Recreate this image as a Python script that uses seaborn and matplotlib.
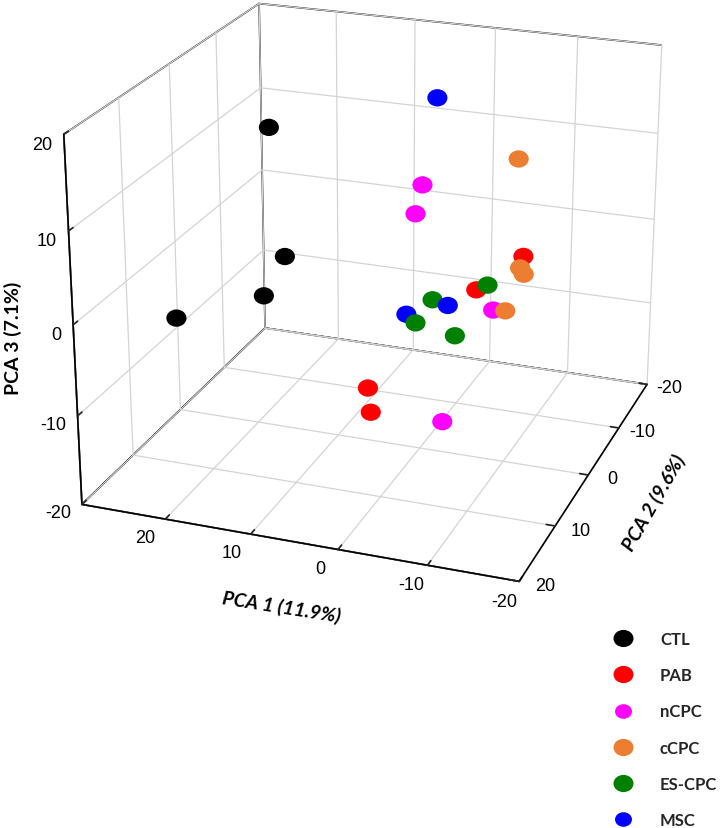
import numpy as np
import pandas as pd
import seaborn as sns
import matplotlib
matplotlib.use("Agg")
import matplotlib.pyplot as plt
from matplotlib.path import Path
from matplotlib.transforms import Affine2D
from matplotlib.lines import Line2D
from matplotlib.markers import MarkerStyle

# ---------------- data ----------------
groups = ["CTL", "PAB", "nCPC", "cCPC", "ES-CPC", "MSC"]
group_colors = ["#000000", "#FF0000", "#FF00FF", "#ED7D31", "#008000", "#0000FF"]

ctl_pc1 = [15.3, 18.5, 15.7, 28.3]
ctl_pc2 = [5.0, -4.0, 6.0, 3.0]
ctl_pc3 = [16.5, -2.1, -1.6, -7.3]

pab_pc1 = [-9.9, -6.5, 3.4, 2.1]
pab_pc2 = [-5.0, 0.0, 6.0, 8.0]
pab_pc3 = [1.1, -0.8, -10.3, -11.8]

ncpc_pc1 = [2.6, 2.5, -8.5, -6.2]
ncpc_pc2 = [-6.0, -4.0, 0.0, 8.0]
ncpc_pc3 = [7.2, 4.8, -2.8, -11.6]

ccpc_pc1 = [-8.7, -11.5, -13.1, -9.9]
ccpc_pc2 = [-6.0, 0.0, 3.0, 0.0]
ccpc_pc3 = [11.4, 2.3, 3.2, -2.7]

escpc_pc1 = [-7.8, -1.4, 0.6, -5.8]
escpc_pc2 = [0.0, 0.0, 0.0, 4.0]
escpc_pc3 = [-0.1, -2.6, -5.5, -4.1]

msc_pc1 = [4.9, 4.0, -3.2]
msc_pc2 = [-15.0, -5.0, 0.0]
msc_pc3 = [13.3, -7.4, -3.0]

x_ticks = [-20, -10, 0, 10, 20]
y_ticks = [-20, -10, 0, 10, 20]
z_ticks = [-20, -10, 0, 10, 20]
x_label = "PCA 1 (11.9%)"
y_label = "PCA 2 (9.6%)"
z_label = "PCA 3 (7.1%)"

series = {
    "CTL": (ctl_pc1, ctl_pc2, ctl_pc3),
    "PAB": (pab_pc1, pab_pc2, pab_pc3),
    "nCPC": (ncpc_pc1, ncpc_pc2, ncpc_pc3),
    "cCPC": (ccpc_pc1, ccpc_pc2, ccpc_pc3),
    "ES-CPC": (escpc_pc1, escpc_pc2, escpc_pc3),
    "MSC": (msc_pc1, msc_pc2, msc_pc3),
}
df = pd.concat(
    [pd.DataFrame({"group": g, "pc1": v[0], "pc2": v[1], "pc3": v[2]}) for g, v in series.items()],
    ignore_index=True,
)

# ---------------- style ----------------
sns.set_theme(style="white")
palette = dict(zip(groups, sns.color_palette(group_colors)))
plt.rcParams.update({
    "font.family": ["Liberation Sans", "DejaVu Sans"],
    "axes.unicode_minus": False,
    "grid.color": "#d4d4d4",
    "grid.linewidth": 0.9,
})

ell = Path.unit_circle().transformed(Affine2D().scale(1.0, 0.86))
marker = MarkerStyle(ell)

fig = plt.figure(figsize=(7.2, 8.29), dpi=100)
ax = fig.add_axes([0.0125, 0.228, 1.0, 0.8684], projection="3d")
ax.set_proj_type("persp", focal_length=0.65)
ax.set_box_aspect((0.96, 1, 0.82), zoom=1.01)
ax.view_init(elev=21.9, azim=110.2)
xlo, xhi = -20, 30
ylo, yhi = -20, 20
zlo, zhi = -20, 20
try:
    ax.set_xlim(xlo, xhi, view_margin=0)
    ax.set_ylim(ylo, yhi, view_margin=0)
    ax.set_zlim(zlo, zhi, view_margin=0)
except TypeError:
    ax.set_xlim(xlo, xhi)
    ax.set_ylim(ylo, yhi)
    ax.set_zlim(zlo, zhi)
ax.set_xticks(x_ticks)
ax.set_yticks(y_ticks)
ax.set_zticks(z_ticks)
try:
    ax.zaxis.set_ticks_position("upper")
except Exception:
    pass

for axis in (ax.xaxis, ax.yaxis, ax.zaxis):
    axis.set_tick_params(labelbottom=False, labelleft=False)
    for lbl in axis.get_ticklabels():
        lbl.set_visible(False)
    axis.set_pane_color((1, 1, 1, 1))
    axis.pane.set_edgecolor("black")
    axis.pane.set_linewidth(1.2)
    axis.line.set_color("black")
    axis.line.set_linewidth(1.2)
    axis._axinfo["grid"].update(color="#d4d4d4", linewidth=0.9)
    axis._axinfo["tick"]["inward_factor"] = 0.0
    axis._axinfo["tick"]["outward_factor"] = 0.25
    axis._axinfo["tick"]["color"] = "black"

colors = [palette[g] for g in df["group"]]
ax.scatter(df["pc1"], df["pc2"], df["pc3"], c=colors, s=210, marker=marker,
           depthshade=False, linewidths=0, alpha=1)

# tick labels: project the 3D anchor points with the axes' own projection,
# then place ordinary 2D texts there (so their positions stay well defined)
M = ax.get_proj()


def to2d(x, y, z):
    v = M @ np.array([x, y, z, 1.0])
    return v[0] / v[3], v[1] / v[3]


tl_kw = dict(fontsize=13, color="black", family=["Liberation Sans", "DejaVu Sans"],
             transform=ax.transData)
for t in x_ticks:
    px, py = to2d(t + 0.2, yhi + 3.5, zlo)
    ax.text2D(px, py, str(t), ha="center", va="center", **tl_kw)
for t in y_ticks:
    px, py = to2d(xlo - 2.8, t, zlo)
    ax.text2D(px, py, str(t), ha="center", va="center", **tl_kw)
for t in z_ticks:
    px, py = to2d(xhi + 1.4, yhi, t - 1.2)
    ax.text2D(px, py, str(t), ha="right", va="center", **tl_kw)

# axis titles
lab_kw = dict(family=["Lato", "DejaVu Sans"], weight="bold", fontsize=14, color="black",
              ha="center", va="center")
fig.text(281 / 720, 1 - 607 / 829, x_label, rotation=-9, style="italic", **lab_kw)
fig.text(654 / 720, 1 - 503 / 829, y_label, rotation=60, style="italic", **lab_kw)
fig.text(13 / 720, 1 - 338 / 829, z_label, rotation=90, **lab_kw)

# legend
small = {"nCPC", "MSC"}
handles = [Line2D([], [], linestyle="none", marker=marker, markersize=(12.2 if g in small else 14.4),
                  markerfacecolor=palette[g], markeredgewidth=0) for g in groups]
fig.legend(handles, groups, loc="upper left", bbox_to_anchor=(0.842, 0.2376),
           frameon=False, borderpad=0, borderaxespad=0, handlelength=2.0, handletextpad=1.22,
           labelspacing=1.21, prop=dict(family=["Lato", "DejaVu Sans"], weight="bold", size=12))

fig.savefig("out.png", dpi=100)
